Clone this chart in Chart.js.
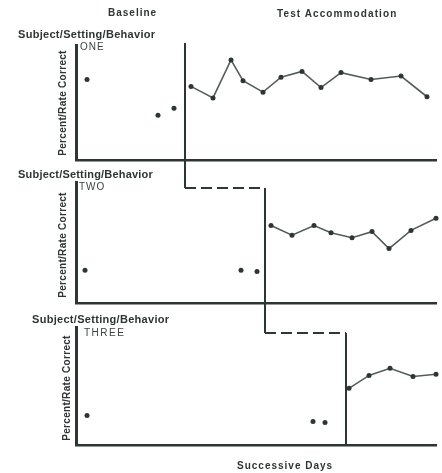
<!DOCTYPE html>
<html>
<head>
<meta charset="utf-8">
<script src="https://cdn.jsdelivr.net/npm/chart.js@4.4.1/dist/chart.umd.min.js"></script>
<style>
  body { margin: 0; background: #fff; }
  #wrap { position: relative; width: 442px; height: 473px; overflow: hidden; font-family: "Liberation Sans", Arial, sans-serif; color: #2d3634; }
  canvas { position: absolute; left: 0; }
  .lbl { position: absolute; white-space: nowrap; line-height: 12px; height: 12px; font-weight: bold; font-size: 10px; }
  .name { position: absolute; white-space: nowrap; line-height: 12px; font-size: 10px; color: #3c4442; letter-spacing: 1px; }
  .ylab { position: absolute; width: 120px; text-align: center; transform: rotate(-90deg); font-weight: bold; font-size: 10px; line-height: 12px; letter-spacing: 0.3px; }
</style>
</head>
<body>
<div id="wrap">
  <canvas id="c1" width="442" height="175" style="top:0"></canvas>
  <canvas id="c2" width="442" height="145" style="top:175px"></canvas>
  <canvas id="c3" width="442" height="153" style="top:320px"></canvas>

  <div class="lbl" style="left:108px;top:7px;letter-spacing:1px">Baseline</div>
  <div class="lbl" style="left:277px;top:8px;letter-spacing:1.1px">Test Accommodation</div>

  <div class="lbl" style="left:18px;top:28px;font-size:11px;letter-spacing:0.3px">Subject/Setting/Behavior</div>
  <div class="lbl" style="left:18px;top:168px;font-size:11px;letter-spacing:0.2px">Subject/Setting/Behavior</div>
  <div class="lbl" style="left:32px;top:313px;font-size:11px;letter-spacing:0.3px">Subject/Setting/Behavior</div>

  <div class="name" style="left:80px;top:41px">ONE</div>
  <div class="name" style="left:79px;top:181px">TWO</div>
  <div class="name" style="left:84px;top:327px;letter-spacing:1.5px">THREE</div>

  <div class="ylab" style="left:3px;top:97px">Percent/Rate Correct</div>
  <div class="ylab" style="left:3px;top:239px">Percent/Rate Correct</div>
  <div class="ylab" style="left:7px;top:382px">Percent/Rate Correct</div>

  <div class="lbl" style="left:237px;top:460px;letter-spacing:1px">Successive Days</div>
</div>
<script>
// x range in days, y range in percent
const dayMin = 0;
const dayMax = 36;
const phaseDays = [10.9, 18.9, 27.0];

// panel ONE
const baseDays1 = [1.1, 8.2, 9.8];
const baseVals1 = [70, 39, 45];
const treatDays1 = [11.5, 13.7, 15.5, 16.7, 18.7, 20.5, 22.6, 24.5, 26.5, 29.5, 32.5, 35.1];
const treatVals1 = [64, 54, 87, 69, 59, 72, 77, 63, 76, 70, 73, 55];

// panel TWO
const baseDays2 = [0.9, 16.5, 18.1];
const baseVals2 = [27, 27, 26];
const treatDays2 = [19.5, 21.6, 23.8, 25.5, 27.6, 29.6, 31.3, 33.5, 36.0];
const treatVals2 = [64, 56, 64, 58, 54, 59, 45, 60, 70];

// panel THREE
const baseDays3 = [1.1, 23.7, 24.9];
const baseVals3 = [25, 20, 19];
const treatDays3 = [27.3, 29.3, 31.4, 33.7, 36.0];
const treatVals3 = [48, 59, 65, 58, 60];

const ink = '#2d3634';
const lineInk = '#545c5a';

const toPoints = (xs, ys) => xs.map((x, i) => ({ x, y: ys[i] }));

// phase change line, with the dashed step down from the panel above
const phaseLine = {
  id: 'phaseLine',
  afterDatasetsDraw(chart, args, opts) {
    const { ctx, chartArea: a } = chart;
    const xs = chart.scales.x;
    const px = xs.getPixelForValue(opts.day);
    let top = a.top - 2;
    ctx.save();
    ctx.strokeStyle = ink;
    ctx.lineWidth = 2;
    if (opts.prevDay != null) {
      const pp = xs.getPixelForValue(opts.prevDay);
      const yc = a.top + 6;
      ctx.beginPath();
      ctx.moveTo(pp, 0);
      ctx.lineTo(pp, yc);
      ctx.stroke();
      ctx.setLineDash([11, 5]);
      ctx.beginPath();
      ctx.moveTo(pp, yc);
      ctx.lineTo(px, yc);
      ctx.stroke();
      ctx.setLineDash([]);
      top = yc;
    }
    ctx.beginPath();
    ctx.moveTo(px, top);
    ctx.lineTo(px, opts.toEdge ? chart.height : a.bottom);
    ctx.stroke();
    ctx.restore();
  }
};

function makePanel(id, baseDays, baseVals, treatDays, treatVals, pad, phase) {
  return new Chart(document.getElementById(id), {
    type: 'scatter',
    data: {
      datasets: [
        {
          data: toPoints(baseDays, baseVals),
          showLine: false,
          pointRadius: 2.5,
          pointBackgroundColor: ink,
          pointBorderWidth: 0,
        },
        {
          data: toPoints(treatDays, treatVals),
          showLine: true,
          borderColor: lineInk,
          borderWidth: 1.6,
          pointRadius: 2.5,
          pointBackgroundColor: ink,
          pointBorderWidth: 0,
        },
      ],
    },
    options: {
      responsive: false,
      animation: false,
      clip: false,
      layout: { padding: pad },
      plugins: {
        legend: { display: false },
        tooltip: { enabled: false },
        phaseLine: phase,
      },
      scales: {
        x: {
          type: 'linear',
          min: dayMin,
          max: dayMax,
          ticks: { display: false },
          grid: { display: false },
          border: { display: true, color: ink, width: 2.5 },
          afterFit: s => { s.height = 0; },
        },
        y: {
          min: 0,
          max: 100,
          ticks: { display: false },
          grid: { display: false },
          border: { display: true, color: ink, width: 3 },
          afterFit: s => { s.width = 0; },
        },
      },
    },
    plugins: [phaseLine],
  });
}

makePanel('c1', baseDays1, baseVals1, treatDays1, treatVals1,
  { left: 76, right: 6, top: 45, bottom: 15 },
  { day: phaseDays[0], toEdge: true });
makePanel('c2', baseDays2, baseVals2, treatDays2, treatVals2,
  { left: 76, right: 6, top: 7, bottom: 17 },
  { prevDay: phaseDays[0], day: phaseDays[1], toEdge: true });
makePanel('c3', baseDays3, baseVals3, treatDays3, treatVals3,
  { left: 76, right: 6, top: 7, bottom: 28 },
  { prevDay: phaseDays[1], day: phaseDays[2], toEdge: false });
</script>
</body>
</html>
